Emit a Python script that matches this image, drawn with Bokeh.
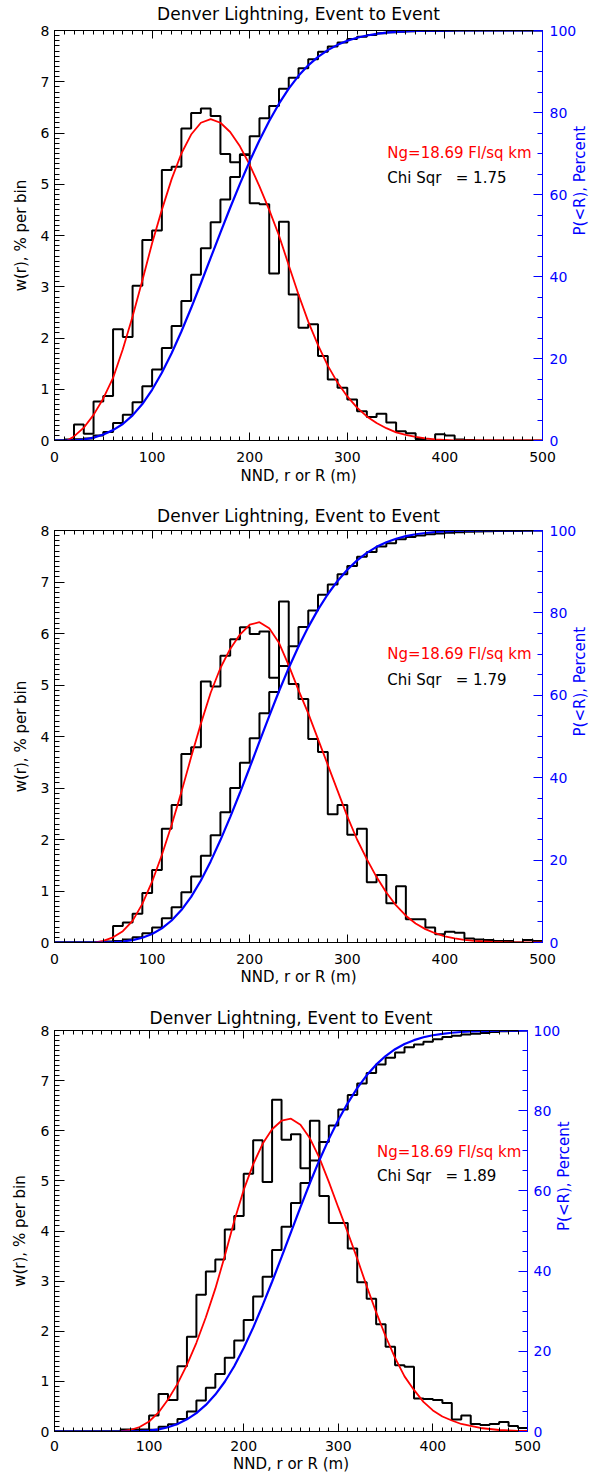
import math
from bokeh.plotting import figure
from bokeh.models import Range1d, LinearAxis, SingleIntervalTicker, Label
from bokeh.layouts import column
from bokeh.embed import file_html
from bokeh.resources import INLINE

FONT = "DejaVu Sans"
BLUE = "#0000ff"
RED = "#ff0000"

title_text = "Denver Lightning, Event to Event"
xlabel_text = "NND, r or R (m)"
ylabel_text = "w(r), % per bin"
y2label_text = "P(<R), Percent"
ng_text = "Ng=18.69 Fl/sq km"
chi_texts = ["Chi Sqr\u00a0\u00a0\u00a0= 1.75", "Chi Sqr\u00a0\u00a0\u00a0= 1.79",
             "Chi Sqr\u00a0\u00a0\u00a0= 1.89"]

bin_edges = list(range(0, 510, 10))
curve_r = list(range(0, 510, 10))

# ---- panel 1 ----
w1 = [0.0, 0.02, 0.31, 0.13, 0.76, 0.87, 2.17, 2.02, 3.02, 3.91,
      4.10, 5.28, 5.34, 6.09, 6.39, 6.48, 6.33, 5.59, 5.43, 5.57,
      4.63, 4.61, 3.26, 4.27, 2.85, 2.20, 2.27, 1.65, 1.19, 1.03,
      0.80, 0.57, 0.46, 0.52, 0.35, 0.18, 0.14, 0.03, 0.0, 0.12,
      0.10, 0.02, 0.01, 0.0, 0.0, 0.0, 0.0, 0.0, 0.0, 0.0]
cum1 = [0.0, 0.02, 0.33, 0.46, 1.22, 2.09, 4.26, 6.28, 9.30, 13.21,
        17.31, 22.59, 27.93, 34.02, 40.41, 46.89, 53.22, 58.81, 64.24, 69.81,
        74.2, 78.6, 81.6, 85.8, 88.5, 90.8, 93.0, 94.8, 96.1, 97.1,
        97.9, 98.5, 98.9, 99.3, 99.55, 99.7, 99.8, 99.85, 99.85, 99.9,
        99.95, 99.97, 99.98, 100, 100, 100, 100, 100, 100, 100]
red1_r = [13, 20, 30, 40, 50, 60, 70, 80, 90, 100, 110, 120, 130, 140, 150,
          160, 170, 180, 190, 200, 210, 220, 230, 240, 250, 260, 270, 280, 290,
          300, 310, 320, 330, 340, 350, 360, 370, 380, 390, 400, 410, 420, 450, 500]
red1_w = [0.0, 0.08, 0.25, 0.5, 0.82, 1.22, 1.78, 2.42, 3.12, 3.85, 4.5, 5.1, 5.6,
          5.97, 6.2, 6.27, 6.2, 6.02, 5.74, 5.38, 4.96, 4.5, 4.0, 3.42, 2.85, 2.32,
          1.86, 1.46, 1.13, 0.86, 0.64, 0.47, 0.34, 0.24, 0.16, 0.11, 0.07, 0.04,
          0.02, 0.01, 0.0, 0.0, 0.0, 0.0]
blue1_p = [0, 0, 0.05, 0.25, 0.69, 1.46, 2.53, 4.02, 6.12, 8.9, 12.37, 16.51,
           21.27, 26.58, 32.31, 38.35, 44.53, 50.71, 56.77, 62.6, 68.12, 73.25,
           77.94, 82.15, 85.83, 88.94, 91.5, 93.57, 95.22, 96.5, 97.49, 98.24,
           98.79, 99.19, 99.48, 99.67, 99.81, 99.9, 99.95, 99.98, 99.99,
           100, 100, 100, 100, 100, 100, 100, 100, 100, 100]

# ---- panel 2 ----
w2 = [0.0, 0.0, 0.0, 0.0, 0.0, 0.02, 0.32, 0.39, 0.56, 0.96,
      1.41, 2.21, 2.67, 3.66, 3.79, 5.07, 4.97, 5.57, 5.89, 6.12,
      5.99, 6.04, 5.14, 6.62, 5.02, 4.73, 3.95, 3.70, 2.49, 2.67,
      2.09, 2.21, 1.17, 1.31, 0.76, 1.09, 0.45, 0.45, 0.29, 0.16,
      0.21, 0.19, 0.08, 0.06, 0.05, 0.03, 0.03, 0.0, 0.05, 0.03]
cum2 = [0.0, 0.0, 0.0, 0.0, 0.0, 0.02, 0.34, 0.73, 1.29, 2.25,
        3.66, 5.87, 8.54, 12.20, 15.99, 21.06, 26.03, 31.60, 37.49, 43.61,
        49.60, 55.64, 60.78, 67.10, 71.9, 76.6, 80.6, 84.4, 86.9, 89.4,
        91.4, 93.6, 94.8, 96.1, 96.9, 97.9, 98.4, 98.8, 99.1, 99.3,
        99.45, 99.6, 99.7, 99.75, 99.8, 99.85, 99.9, 99.9, 99.95, 100]
red2_r = [42, 50, 60, 70, 80, 90, 100, 110, 120, 130, 140, 150, 160, 170, 180,
          190, 200, 210, 220, 230, 240, 250, 260, 270, 280, 290, 300, 310, 320,
          330, 340, 350, 360, 370, 380, 390, 400, 410, 420, 430, 440, 450, 470, 500]
red2_w = [0.0, 0.03, 0.1, 0.22, 0.42, 0.75, 1.18, 1.7, 2.28, 2.92, 3.6, 4.25,
          4.85, 5.33, 5.7, 5.98, 6.17, 6.22, 6.1, 5.82, 5.38, 4.9, 4.45, 3.95,
          3.45, 2.95, 2.45, 2.0, 1.62, 1.27, 0.97, 0.72, 0.52, 0.37, 0.26, 0.18,
          0.12, 0.08, 0.05, 0.03, 0.02, 0.01, 0.0, 0.0]
blue2_p = [0, 0, 0, 0, 0, 0.015, 0.08, 0.24, 0.57, 1.14, 2.06, 3.42, 5.34, 7.87,
           11.08, 15.04, 19.69, 24.86, 30.44, 36.34, 42.48, 48.74, 54.96, 60.98,
           66.64, 71.83, 76.55, 80.79, 84.53, 87.76, 90.49, 92.74, 94.57, 96.03,
           97.16, 98.01, 98.64, 99.09, 99.4, 99.63, 99.78, 99.88, 99.95, 99.98,
           100, 100, 100, 100, 100, 100, 100]

# ---- panel 3 ----
w3 = [0.0, 0.0, 0.0, 0.0, 0.0, 0.0, 0.0, 0.04, 0.04, 0.04,
      0.32, 0.75, 0.63, 1.30, 1.89, 2.73, 3.19, 3.43, 4.03, 4.30,
      5.14, 5.81, 4.98, 6.62, 5.82, 5.93, 5.25, 6.20, 4.70, 4.16,
      4.16, 3.65, 2.98, 2.65, 2.14, 1.69, 1.32, 1.29, 0.66, 0.65,
      0.63, 0.57, 0.24, 0.32, 0.15, 0.13, 0.15, 0.19, 0.11, 0.07]
cum3 = [0.0, 0.0, 0.0, 0.0, 0.0, 0.0, 0.0, 0.04, 0.08, 0.12,
        0.44, 1.19, 1.82, 3.12, 5.01, 7.74, 10.93, 14.36, 18.39, 22.69,
        27.83, 33.64, 38.62, 45.24, 51.06, 56.99, 62.0, 67.6, 72.2, 76.3,
        80.3, 83.9, 86.8, 89.4, 91.5, 93.2, 94.5, 95.8, 96.5, 97.2,
        97.8, 98.4, 98.7, 99.0, 99.2, 99.4, 99.6, 99.8, 99.9, 100]
red3_r = list(range(70, 510, 10))
red3_w = [0.0, 0.03, 0.09, 0.2, 0.38, 0.64, 0.95, 1.33, 1.77, 2.28,
          2.85, 3.5, 4.2, 4.82, 5.33, 5.74, 6.03, 6.2, 6.24, 6.12,
          5.85, 5.46, 4.98, 4.47, 3.97, 3.45, 2.9, 2.38, 1.9, 1.47,
          1.1, 0.83, 0.59, 0.42, 0.3, 0.22, 0.15, 0.11, 0.07, 0.05,
          0.03, 0.02, 0.01, 0.01]
blue3_p = [0, 0, 0, 0, 0, 0, 0, 0, 0.01, 0.07, 0.22, 0.53, 1.07, 1.88, 3.03,
           4.59, 6.63, 9.21, 12.4, 16.27, 20.81, 25.9, 31.44, 37.34, 43.48,
           49.74, 55.95, 61.97, 67.66, 72.91, 77.66, 81.9, 85.63, 88.83, 91.48,
           93.63, 95.33, 96.62, 97.59, 98.31, 98.81, 99.17, 99.44, 99.62, 99.75,
           99.84, 99.9, 99.94, 99.97, 99.99, 100]


def style_axis(ax, color, major_in, minor_in):
    ax.axis_line_color = color
    ax.axis_line_width = 1
    ax.major_tick_line_color = color
    ax.minor_tick_line_color = color
    ax.major_tick_in = major_in
    ax.major_tick_out = 0
    ax.minor_tick_in = minor_in
    ax.minor_tick_out = 0
    ax.major_label_text_color = color
    ax.major_label_text_font = FONT
    ax.major_label_text_font_size = "14px"
    ax.axis_label_text_color = color
    ax.axis_label_text_font = FONT
    ax.axis_label_text_font_size = "15px"
    ax.axis_label_text_font_style = "normal"


def make_panel(w, cum, red_r, red_w, blue_p, chi_txt, geo, txt_y):
    (fw, fh, bl, bt, br, bb, title_s, xtick_s, xlab_s, ylab_s, rtick_s, rlab_s) = geo
    p = figure(frame_width=fw, frame_height=fh,
               min_border_left=bl, min_border_top=bt,
               min_border_right=br, min_border_bottom=bb,
               x_range=Range1d(0, 500), y_range=Range1d(0, 8),
               output_backend="svg", toolbar_location=None)
    p.extra_y_ranges = {"pct": Range1d(0, 100)}
    p.grid.visible = False
    p.outline_line_color = None
    p.background_fill_color = "white"
    p.border_fill_color = "white"

    xax = p.below[0]
    xax.ticker = SingleIntervalTicker(interval=100, num_minor_ticks=10)
    style_axis(xax, "black", 8, 4)
    xax.major_label_standoff = xtick_s
    xax.axis_label = xlabel_text
    xax.axis_label_standoff = xlab_s

    yax = p.left[0]
    yax.ticker = SingleIntervalTicker(interval=1, num_minor_ticks=10)
    style_axis(yax, "black", 10, 5)
    yax.major_label_standoff = 5
    yax.axis_label = ylabel_text
    yax.axis_label_standoff = ylab_s

    top = LinearAxis(ticker=SingleIntervalTicker(interval=100, num_minor_ticks=10))
    style_axis(top, "black", 8, 4)
    top.major_label_text_font_size = "1px"
    top.major_label_text_color = None
    top.major_label_standoff = 0
    top.axis_label = title_text
    top.axis_label_standoff = title_s
    top.axis_label_text_font_size = "17px"
    p.add_layout(top, "above")

    rax = LinearAxis(y_range_name="pct",
                     ticker=SingleIntervalTicker(interval=20, num_minor_ticks=4))
    style_axis(rax, BLUE, 9, 5)
    rax.major_label_standoff = rtick_s
    rax.axis_label = y2label_text
    rax.axis_label_standoff = rlab_s
    try:
        rax.axis_label_orientation = math.pi / 2
    except Exception:
        pass
    p.add_layout(rax, "right")

    edges_y = w + [w[-1]]
    cum_y = cum + [cum[-1]]
    p.step(bin_edges, edges_y, mode="after", line_color="black", line_width=2)
    p.step(bin_edges, cum_y, mode="after", line_color="black", line_width=2,
           y_range_name="pct")
    p.line(red_r, red_w, line_color=RED, line_width=1.8)
    p.line(curve_r, blue_p, line_color=BLUE, line_width=2.2, y_range_name="pct")

    p.add_layout(Label(x=341, y=txt_y[0], text=ng_text, text_align="left",
                       text_baseline="middle", text_font=FONT,
                       text_font_size="15px", text_color=RED))
    p.add_layout(Label(x=341, y=txt_y[1], text=chi_txt, text_align="left",
                       text_baseline="middle", text_font=FONT,
                       text_font_size="15px", text_color="black"))
    return p


# frame_w, frame_h, border l/t/r/b, title standoff, xtick standoff,
# xlabel standoff, ylabel standoff, right tick standoff, right label standoff
geo1 = (488, 410, 54, 28, 66, 50, 7, 11, 2, 8, 7, 1)
geo2 = (488, 412, 54, 40, 66, 48, 5, 11, 1, 8, 7, 1)
geo3 = (473, 401, 52, 40, 83, 46, 3, 9, 1, 9, 6, 1)

p1 = make_panel(w1, cum1, red1_r, red1_w, blue1_p, chi_texts[0], geo1, (5.61, 5.12))
p2 = make_panel(w2, cum2, red2_r, red2_w, blue2_p, chi_texts[1], geo2, (5.60, 5.10))
p3 = make_panel(w3, cum3, red3_r, red3_w, blue3_p, chi_texts[2], geo3, (5.57, 5.10))

layout = column(p1, p2, p3)
open("out.html", "w").write(file_html(layout, INLINE))
